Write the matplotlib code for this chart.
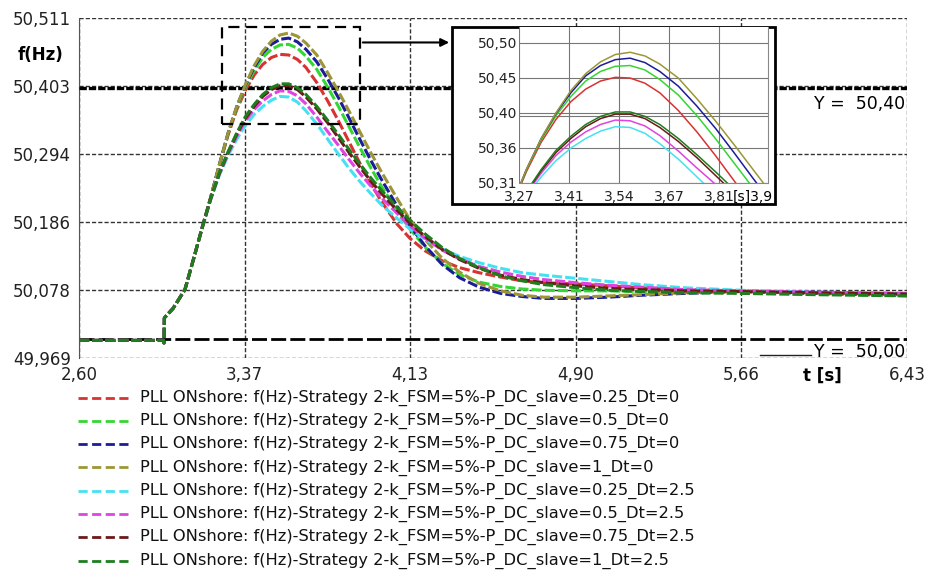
import matplotlib.pyplot as plt
from matplotlib.lines import Line2D
from matplotlib.patches import Rectangle
import numpy as np

# common part before the curves split
t_rise = [2.60, 2.99, 2.993, 2.995, 3.035, 3.09, 3.13, 3.17]
f_rise = [49.997, 49.997, 49.993, 50.033, 50.048, 50.078, 50.127, 50.177]

t_main = [3.21, 3.25, 3.29, 3.33, 3.37, 3.41, 3.45, 3.49, 3.53, 3.57, 3.61, 3.65,
          3.70, 3.75, 3.80, 3.85, 3.90, 3.95, 4.00, 4.07, 4.13, 4.20, 4.28, 4.36,
          4.45, 4.55, 4.65, 4.75, 4.90, 5.05, 5.20, 5.40, 5.66, 6.00, 6.43]

f_red_0 = [50.226, 50.277, 50.325, 50.365, 50.396, 50.420, 50.437, 50.448, 50.453, 50.452, 50.445, 50.432,
           50.408, 50.379, 50.347, 50.313, 50.279, 50.247, 50.218, 50.183, 50.160, 50.140, 50.124, 50.113,
           50.105, 50.098, 50.092, 50.089, 50.087, 50.084, 50.081, 50.078, 50.076, 50.073, 50.070]
f_green_0 = [50.226, 50.278, 50.327, 50.368, 50.401, 50.427, 50.448, 50.461, 50.468, 50.469, 50.463, 50.450,
             50.429, 50.401, 50.370, 50.337, 50.304, 50.272, 50.242, 50.204, 50.175, 50.146, 50.120, 50.102,
             50.090, 50.083, 50.079, 50.077, 50.076, 50.076, 50.075, 50.075, 50.075, 50.072, 50.068]
f_blue_0 = [50.226, 50.278, 50.328, 50.370, 50.404, 50.432, 50.455, 50.469, 50.477, 50.479, 50.473, 50.461,
            50.441, 50.414, 50.384, 50.351, 50.317, 50.284, 50.253, 50.212, 50.180, 50.148, 50.118, 50.097,
            50.082, 50.072, 50.067, 50.064, 50.064, 50.066, 50.069, 50.072, 50.075, 50.072, 50.069]
f_olive_0 = [50.226, 50.278, 50.328, 50.370, 50.405, 50.435, 50.458, 50.474, 50.484, 50.487, 50.482, 50.471,
             50.452, 50.424, 50.394, 50.362, 50.329, 50.296, 50.265, 50.224, 50.190, 50.158, 50.128, 50.106,
             50.088, 50.076, 50.069, 50.066, 50.066, 50.068, 50.070, 50.073, 50.075, 50.073, 50.070]
f_cyan_25 = [50.222, 50.261, 50.292, 50.318, 50.340, 50.357, 50.370, 50.380, 50.386, 50.385, 50.377, 50.363,
             50.342, 50.318, 50.294, 50.271, 50.250, 50.231, 50.213, 50.192, 50.175, 50.158, 50.143, 50.131,
             50.121, 50.112, 50.105, 50.101, 50.096, 50.091, 50.086, 50.081, 50.077, 50.074, 50.072]
f_magenta_25 = [50.223, 50.263, 50.295, 50.323, 50.347, 50.365, 50.379, 50.389, 50.395, 50.394, 50.387, 50.374,
                50.353, 50.330, 50.308, 50.285, 50.263, 50.243, 50.224, 50.200, 50.180, 50.160, 50.141, 50.127,
                50.115, 50.106, 50.099, 50.094, 50.089, 50.085, 50.082, 50.078, 50.076, 50.074, 50.072]
f_brown_25 = [50.224, 50.264, 50.297, 50.326, 50.351, 50.370, 50.386, 50.397, 50.403, 50.403, 50.397, 50.385,
              50.366, 50.344, 50.320, 50.296, 50.273, 50.251, 50.231, 50.205, 50.184, 50.163, 50.142, 50.126,
              50.112, 50.101, 50.094, 50.089, 50.084, 50.080, 50.078, 50.076, 50.075, 50.073, 50.071]
f_dkgreen_25 = [50.224, 50.265, 50.298, 50.328, 50.354, 50.373, 50.389, 50.400, 50.406, 50.406, 50.400, 50.389,
                50.370, 50.348, 50.325, 50.301, 50.278, 50.256, 50.236, 50.210, 50.189, 50.167, 50.145, 50.128,
                50.113, 50.100, 50.092, 50.086, 50.081, 50.077, 50.075, 50.073, 50.072, 50.070, 50.068]

labels = [
    'PLL ONshore: f(Hz)-Strategy 2-k_FSM=5%-P_DC_slave=0.25_Dt=0',
    'PLL ONshore: f(Hz)-Strategy 2-k_FSM=5%-P_DC_slave=0.5_Dt=0',
    'PLL ONshore: f(Hz)-Strategy 2-k_FSM=5%-P_DC_slave=0.75_Dt=0',
    'PLL ONshore: f(Hz)-Strategy 2-k_FSM=5%-P_DC_slave=1_Dt=0',
    'PLL ONshore: f(Hz)-Strategy 2-k_FSM=5%-P_DC_slave=0.25_Dt=2.5',
    'PLL ONshore: f(Hz)-Strategy 2-k_FSM=5%-P_DC_slave=0.5_Dt=2.5',
    'PLL ONshore: f(Hz)-Strategy 2-k_FSM=5%-P_DC_slave=0.75_Dt=2.5',
    'PLL ONshore: f(Hz)-Strategy 2-k_FSM=5%-P_DC_slave=1_Dt=2.5',
]
series = [f_red_0, f_green_0, f_blue_0, f_olive_0, f_cyan_25, f_magenta_25, f_brown_25, f_dkgreen_25]
colors = ['#d83232', '#34d634', '#1c1c9a', '#9c9636', '#44e2f0', '#e044e0', '#6a1a1a', '#1e7e1e']

xtick_labels = ['2,60', '3,37', '4,13', '4,90', '5,66', '6,43']
ytick_labels = ['49,969', '50,078', '50,186', '50,294', '50,403', '50,511']
inset_xtick_labels = ['3,27', '3,41', '3,54', '3,67', '3,81']
inset_ytick_labels = ['50,31', '50,36', '50,40', '50,45', '50,50']
ref_levels = [50.40, 50.00]

W, H = 926, 574
fig = plt.figure(figsize=(W / 100, H / 100), dpi=100)
plt.rcParams['font.family'] = 'DejaVu Sans'

# main axes
ax = fig.add_axes([79 / W, 1 - 358 / H, 828 / W, 340 / H])
ax.set_xlim(2.60, 6.43)
ax.set_ylim(49.969, 50.511)
ax.set_xticks(np.linspace(2.60, 6.43, 6))
ax.set_xticklabels(xtick_labels, fontsize=12)
ax.set_yticks(np.linspace(49.969, 50.511, 6))
ax.set_yticklabels(ytick_labels, fontsize=12)
ax.tick_params(length=0, pad=6, colors='#222')
ax.tick_params(axis='x', pad=5.5)
ax.grid(True, color='#333', lw=1, linestyle=(0, (3, 1.5)))
for s in ['top', 'right', 'bottom']:
    ax.spines[s].set_visible(False)
ax.spines['left'].set_color('#555')

ax.axhline(ref_levels[0], color='k', lw=2.4, linestyle=(0, (2.2, 0.6)), zorder=3)
ax.axhline(ref_levels[1], color='k', lw=2, linestyle=(0, (5.4, 1.5)), zorder=3)

for f, c in zip(series, colors):
    ax.plot(t_rise + t_main, f_rise + f, color=c, lw=2.2, linestyle=(0, (3.3, 1.0)), zorder=4)

# zoom box + arrow
ax.add_patch(Rectangle((3.26, 50.342), 0.64, 0.155, fill=False, ec='k', lw=1.6,
                       linestyle=(0, (5, 3)), zorder=5))
ax.annotate('', xy=(4.325, 50.472), xytext=(3.90, 50.472),
            arrowprops=dict(arrowstyle='-|>', color='k', lw=1.5, mutation_scale=12))

fig.text(40 / W, 1 - 55 / H, 'f(Hz)', fontsize=12, fontweight='bold', ha='center', va='center')
fig.text(905 / W, 1 - 104 / H, 'Y =  50,40', fontsize=12.5, ha='right', va='center')
fig.text(905 / W, 1 - 352 / H, 'Y =  50,00', fontsize=12.5, ha='right', va='center')
fig.add_artist(Line2D([760 / W, 811 / W], [1 - 355 / H, 1 - 355 / H], color='#222', lw=1))
fig.text(822 / W, 1 - 376 / H, 't [s]', fontsize=12, fontweight='bold', ha='center', va='center')

# inset frame
fig.add_artist(Rectangle((452 / W, 1 - 204 / H), 323 / W, 177 / H, transform=fig.transFigure,
                         fc='white', ec='k', lw=2, zorder=2))

axi = fig.add_axes([519 / W, 1 - 182.7 / H, 249 / W, 155.7 / H], zorder=3)
axi.set_xlim(3.27, 3.942)
axi.set_ylim(50.31, 50.5213)
axi.set_xticks(np.linspace(3.27, 3.81, 5))
axi.set_xticklabels(inset_xtick_labels, fontsize=10)
axi.set_yticks(np.linspace(50.31, 50.50, 5))
axi.set_yticklabels(inset_ytick_labels, fontsize=10)
axi.tick_params(length=0, colors='#222')
axi.tick_params(axis='y', pad=1)
axi.tick_params(axis='x', pad=5)
axi.grid(True, color='#777', lw=0.8)
for s in axi.spines.values():
    s.set_color('#888')
    s.set_linewidth(0.8)
axi.spines['top'].set_visible(False)
axi.spines['left'].set_visible(False)
axi.axhline(ref_levels[0], color='#777', lw=0.8)
for f, c in zip(series, colors):
    axi.plot(t_rise + t_main, f_rise + f, color=c, lw=1.1)
axi.text(1.02, -0.045, '[s]3,9', transform=axi.transAxes, fontsize=10, ha='right', va='top')

# legend drawn row by row
for i, (lab, c) in enumerate(zip(labels, colors)):
    y = 1 - (397.5 + i * 23.3) / H
    fig.add_artist(Line2D([78 / W, 128 / W], [y, y], color=c, lw=2, linestyle=(0, (3.3, 1.6))))
    fig.text(140 / W, y, lab, fontsize=11.7, ha='left', va='center', color='#111')

fig.savefig('out.png', dpi=100)
